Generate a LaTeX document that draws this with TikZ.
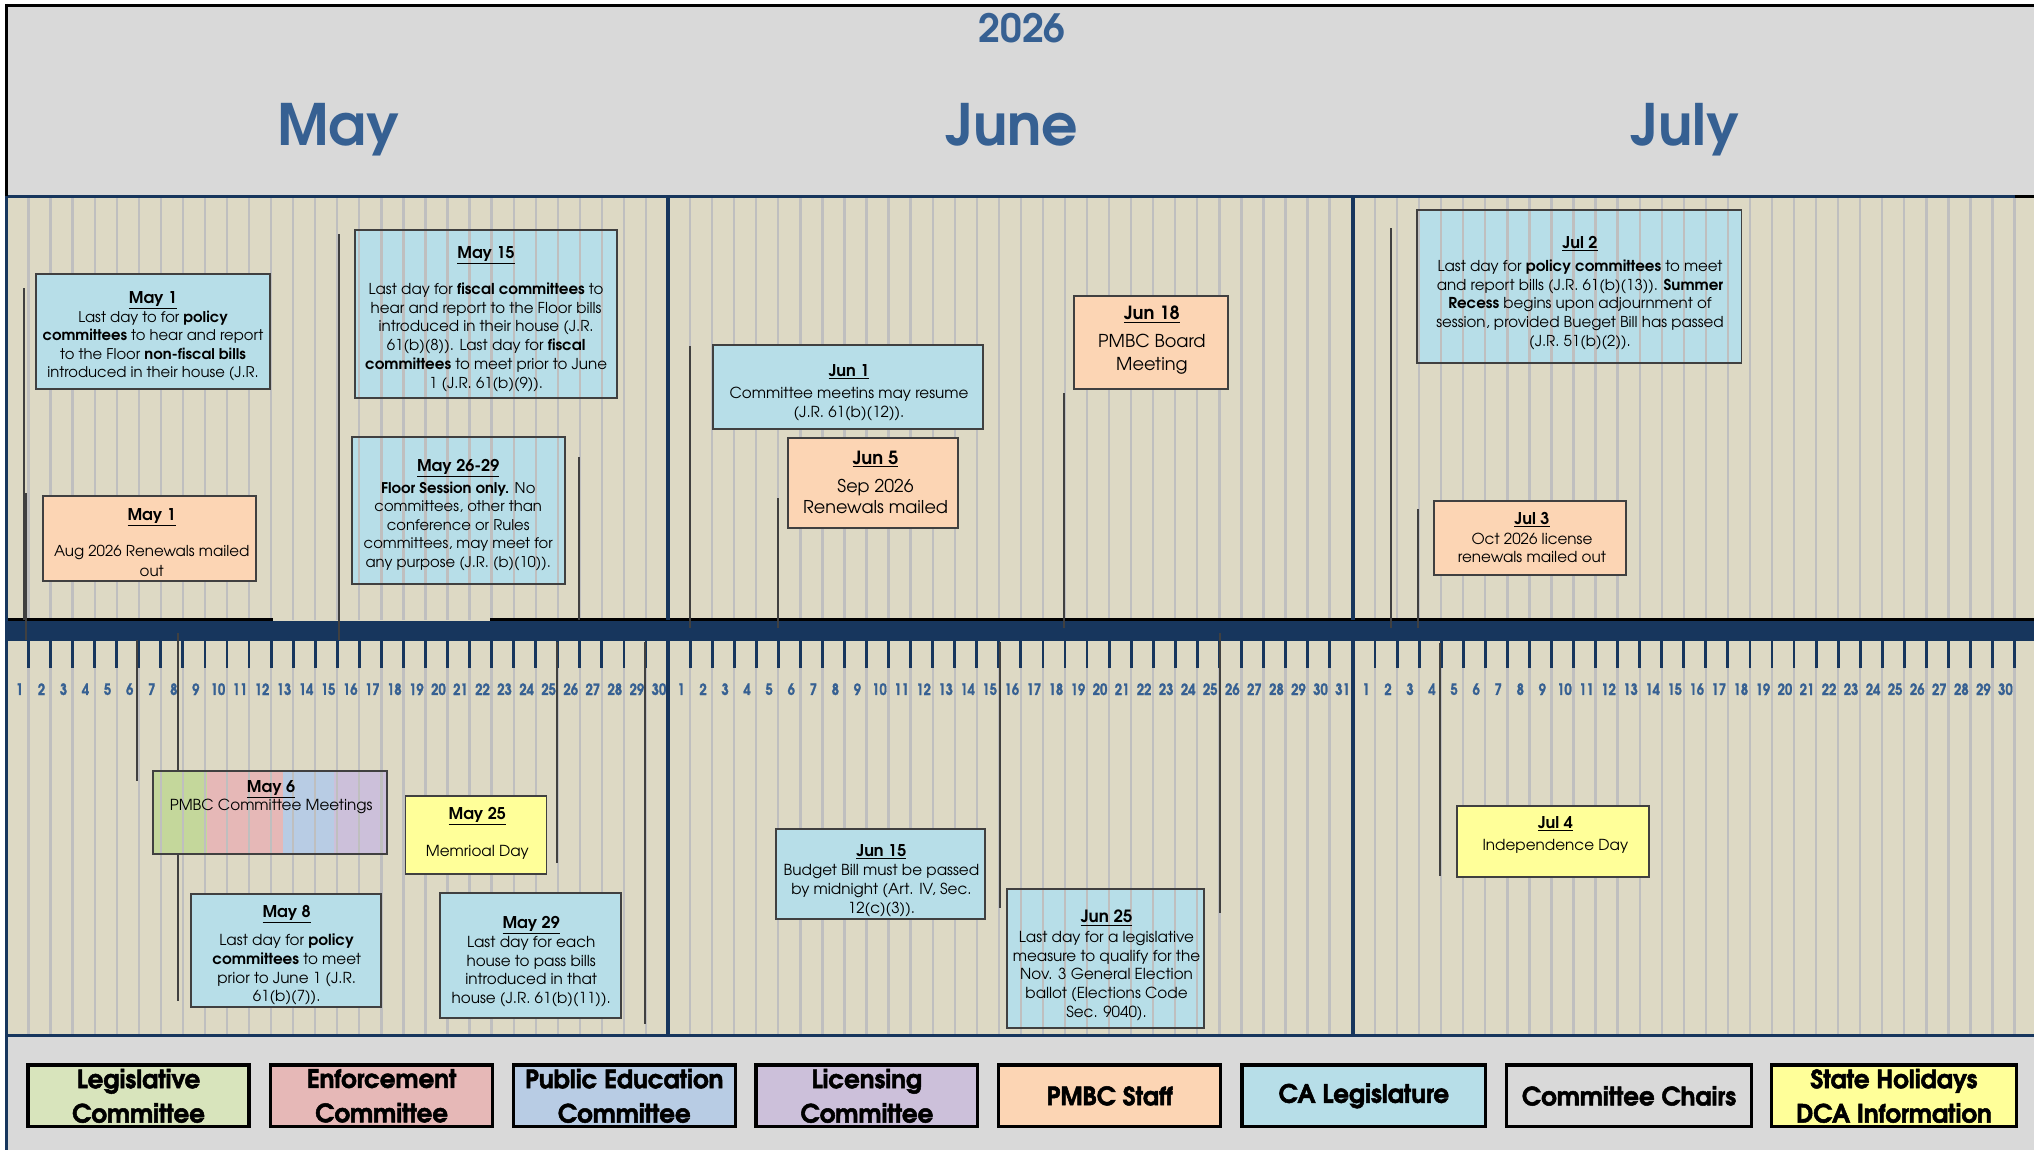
\documentclass[tikz,border=0pt]{standalone}
\usepackage{fontspec}
\setmainfont{texgyreadventor}[Extension=.otf,UprightFont=*-regular,BoldFont=*-bold,ItalicFont=*-italic,BoldItalicFont=*-bolditalic]
\newfontfamily\numfont{texgyreadventor}[Extension=.otf,UprightFont=*-bold,BoldFont=*-bold,FakeStretch=0.84,FakeBold=1.2]
\newfontfamily\legfont{texgyreadventor}[Extension=.otf,UprightFont=*-bold,BoldFont=*-bold,FakeStretch=0.97,FakeBold=2]
\definecolor{beige}{HTML}{DDD9C4}
\definecolor{stripecol}{HTML}{BFBFBF}
\definecolor{hdr}{HTML}{D9D9D9}
\definecolor{navy}{HTML}{17365D}
\definecolor{mblue}{HTML}{366092}
\definecolor{bord}{HTML}{404040}
\definecolor{cal}{HTML}{B7DEE8}
\definecolor{peach}{HTML}{FCD5B4}
\definecolor{hol}{HTML}{FFFF99}
\definecolor{legg}{HTML}{D8E4BC}
\definecolor{grn}{HTML}{C4D79B}
\definecolor{enf}{HTML}{E6B8B7}
\definecolor{pub}{HTML}{B8CCE4}
\definecolor{lic}{HTML}{CCC0DA}
\tikzset{
  evbox/.style={draw=bord,line width=1.5pt,inner sep=0pt},
  evtext/.style={align=center,inner sep=0pt,text=black},
  conn/.style={draw=bord,line width=1.5pt},
  stripeline/.style={draw=stripecol,line width=1.8pt},
  tickline/.style={draw=navy,line width=2.2pt},
  divline/.style={draw=navy,line width=2.5pt},
  legbox/.style={draw=black,line width=2.5pt,inner sep=0pt,minimum height=47.6pt,align=center,font=\legfont\fontsize{19.5}{26.5}\selectfont},
  daynum/.style={text=mblue,font=\numfont\fontsize{12}{12}\selectfont,inner sep=0pt},
  monthlbl/.style={text=mblue,font=\bfseries\fontsize{44}{44}\selectfont,inner sep=0pt,anchor=base},
}
\newcommand\evb[6]{\node[evbox,#6,minimum width={(#4)-(#2)},minimum height={(#5)-(#3)}] (#1) at ({((#2)+(#4))/2},{((#3)+(#5))/2}) {};}
\newcommand\ttl[2][12.5]{{\fontsize{#1}{14}\selectfont\underline{\textbf{#2}}}}
\newcommand\lead[4]{\coordinate (#1-b) at (#2,#3); \coordinate (#1-e) at (#2,#4); \draw[conn] (#1-b) -- (#1-e);}
\newcommand\bodyf[2]{\fontsize{#1}{#2}\selectfont}
\begin{document}
\begin{tikzpicture}[x=1pt,y=-1pt]
\useasboundingbox (0,0) rectangle (1568,886.5);
% backgrounds
\fill[white] (0,0) rectangle (1568,886.5);
\fill[hdr] (5,4) rectangle (1568,151);
\fill[beige] (5,151) rectangle (1568,798);
\fill[hdr] (5,798) rectangle (1568,886.5);
% fills of boxes that show the stripes through them
\fill[cal] (274,177) rectangle (475.5,307);
\fill[cal] (271,337) rectangle (435.5,450);
\fill[cal] (1092,162) rectangle (1342.5,280);
\fill[cal] (776.4,685.5) rectangle (927.8,792.8);
\fill[grn] (118,594) rectangle (159.6,658);
\fill[enf] (159.6,594) rectangle (218,658);
\fill[pub] (218,594) rectangle (257.5,658);
\fill[lic] (257.5,594) rectangle (298,658);
% stripes
\foreach \L/\n in {5/29,515/30,1043/30}{
  \foreach \d in {1,...,\n}{
    \draw[stripeline] ({\L+17*\d},152) -- ({\L+17*\d},478) ({\L+17*\d},493) -- ({\L+17*\d},797);
  }
}
% timeline bar
\fill[navy] (4.5,478.5) rectangle (1568,494);
\draw[black,line width=2.3pt] (5,477.3) -- (210.7,477.3) (378,477.3) -- (1568,477.3);
\foreach \L/\n in {5/29,515/30,1043/30}{
  \foreach \d in {1,...,\n}{
    \draw[tickline] ({\L+17*\d},494) -- ({\L+17*\d},515.3);
  }
}
\foreach \L/\n in {5/30,515/31,1043/30}{
  \foreach \d in {1,...,\n}{
    \node[daynum] (dn-\L-\d) at ({\L+17*\d-7},531.3) {\d};
  }
}
% month dividers and frame lines
\draw[divline] (515,151) -- (515,478) (515,494) -- (515,798);
\draw[divline] (1043,151) -- (1043,478) (1043,494) -- (1043,798);
\draw[navy,line width=2pt] (5,151.3) -- (1553,151.3);
\draw[black,line width=2pt] (1553,151.3) -- (1568,151.3);
\draw[navy,line width=2.5pt] (5,798) -- (1568,798);
\draw[black,line width=2pt] (5,3) -- (5,151);
\draw[navy,line width=2pt] (5,151) -- (5,886.5);
\draw[black,line width=2.5pt] (4,4) -- (1568,4);
% header
\node[text=mblue,font=\bfseries\fontsize{30}{30}\selectfont,inner sep=0pt] (year) at (788,21.5) {2026};
\node[monthlbl] (m-may) at (261,112) {May};
\node[monthlbl] (m-jun) at (780,112) {June};
\node[monthlbl] (m-jul) at (1299,112) {July};
% leader lines (top)
\lead{l1}{18.5}{478}{222}
\lead{l2}{20}{493}{380}
\lead{l3}{261}{493}{180.5}
\lead{l4}{446.4}{478}{352}
\lead{l5}{531.6}{484}{267}
\lead{l6}{599.6}{484}{384}
\lead{l7}{820.2}{484}{303}
\lead{l8}{1072.6}{484}{175.5}
\lead{l9}{1093}{484}{392.5}
% leader lines (bottom)
\lead{l10}{105.5}{493}{602}
\lead{l12}{429.3}{495}{665}
\lead{l13}{497.5}{495}{789}
\lead{l14}{770.7}{495}{700}
\lead{l15}{940.6}{488}{704}
\lead{l16}{1110.4}{496}{675}
% event boxes
\evb{may1a}{28}{211}{208}{300}{fill=cal}
\evb{may1b}{33.5}{382}{197}{448}{fill=peach}
\evb{may15}{274}{177}{475.5}{307}{}
\evb{may26}{271}{337}{435.5}{450}{}
\evb{jun1}{549.4}{266}{757.7}{330.7}{fill=cal}
\evb{jun5}{607.6}{337.5}{738.6}{407}{fill=peach}
\evb{jun18}{827.8}{228}{946.3}{299.7}{fill=peach}
\evb{jul2}{1092}{162}{1342.5}{280}{}
\evb{jul3}{1105.7}{386.3}{1253.7}{443.6}{fill=peach}
\evb{may6}{118}{594}{298}{658}{}
\evb{may8}{147}{689}{294}{776}{fill=cal}
\evb{may25}{312.6}{613.7}{421.3}{674}{fill=hol}
\evb{may29}{339.4}{688.3}{478.8}{785}{fill=cal}
\evb{jun15}{598}{639}{759}{708.8}{fill=cal}
\evb{jun25}{776.4}{685.5}{927.8}{792.8}{}
\evb{jul4}{1123.4}{621.4}{1271.5}{676.2}{fill=hol}
% May 8 leader passes behind the May 6 box
\coordinate (l11-b) at (137.2,488);
\coordinate (l11-e) at (137.2,772);
\draw[conn] (l11-b) -- (l11-b |- may6.north) (l11-b |- may6.south) -- (l11-e);
% event texts
\node[evtext,font=\bodyf{11.4}{14}] (t-may1a) at (118,259) {\ttl{May 1}\\[1pt]Last day to for \textbf{policy}\\\textbf{committees} to hear and report\\to the Floor \textbf{non-fiscal bills}\\introduced in their house (J.R.};
\node[evtext,font=\bodyf{11.6}{15}] (t-may1b) at (117,418.3) {\ttl{May 1}\\[13pt]Aug 2026 Renewals mailed\\out};
\node[evtext,font=\bodyf{11.6}{14.4}] (t-may15) at (374.75,245.8) {\ttl{May 15}\\[13.6pt]Last day for \textbf{fiscal committees} to\\hear and report to the Floor bills\\introduced in their house (J.R.\\61(b)(8)). Last day for \textbf{fiscal}\\\textbf{committees} to meet prior to June\\1 (J.R. 61(b)(9)).};
\node[evtext,font=\bodyf{11.4}{14.25}] (t-may26) at (353.25,396.8) {\ttl{May 26-29}\\[2.75pt]\textbf{Floor Session only.} No\\committees, other than\\conference or Rules\\committees, may meet for\\any purpose (J.R. (b)(10)).};
\node[evtext,font=\bodyf{11.7}{15}] (t-jun1) at (654.5,302.8) {\ttl{Jun 1}\\[2pt]Committee meetins may resume\\(J.R. 61(b)(12)).};
\node[evtext,font=\bodyf{13.6}{16}] (t-jun5) at (675,371.8) {\ttl[14]{Jun 5}\\[6pt]Sep 2026\\Renewals mailed};
\node[evtext,font=\bodyf{13.7}{18}] (t-jun18) at (888,262.3) {\ttl[14]{Jun 18}\\[3pt]PMBC Board\\Meeting};
\node[evtext,font=\bodyf{11.6}{14.5}] (t-jul2) at (1218,225.8) {\ttl{Jul 2}\\[3.5pt]Last day for \textbf{policy committees} to meet\\and report bills (J.R. 61(b)(13)). \textbf{Summer}\\\textbf{Recess} begins upon adjournment of\\session, provided Bueget Bill has passed\\(J.R. 51(b)(2)).};
\node[evtext,font=\bodyf{11.7}{14}] (t-jul3) at (1181,414.3) {\ttl{Jul 3}\\[1pt]Oct 2026 license\\renewals mailed out};
\node[evtext,font=\bodyf{11.7}{14}] (t-may6) at (209,614.8) {\ttl{May 6}\\PMBC Committee Meetings};
\node[evtext,font=\bodyf{11.7}{14.3}] (t-may8) at (221,736.3) {\ttl{May 8}\\[7.7pt]Last day for \textbf{policy}\\\textbf{committees} to meet\\prior to June 1 (J.R.\\61(b)(7)).};
\node[evtext,font=\bodyf{11.7}{14.3}] (t-may25) at (368,642.3) {\ttl{May 25}\\[14.7pt]Memrioal Day};
\node[evtext,font=\bodyf{11.7}{14.3}] (t-may29) at (409.5,741.3) {\ttl{May 29}\\Last day for each\\house to pass bills\\introduced in that\\house (J.R. 61(b)(11)).};
\node[evtext,font=\bodyf{11.7}{14.5}] (t-jun15) at (679.5,678.8) {\ttl{Jun 15}\\[0.5pt]Budget Bill must be passed\\by midnight (Art. IV, Sec.\\12(c)(3)).};
\node[evtext,font=\bodyf{11.7}{14.5}] (t-jun25) at (853,744.3) {\ttl[13]{Jun 25}\\[0.5pt]Last day for a legislative\\measure to qualify for the\\Nov. 3 General Election\\ballot (Elections Code\\Sec. 9040).};
\node[evtext,font=\bodyf{11.7}{14}] (t-jul4) at (1199,643.3) {\ttl{Jul 4}\\[3pt]Independence Day};
% legend
\node[legbox,fill=legg,minimum width=170.4] (leg1) at (106.8,844.8) {Legislative\\Committee};
\node[legbox,fill=enf,minimum width=171] (leg2) at (294.2,844.8) {Enforcement\\Committee};
\node[legbox,fill=pub,minimum width=171.1] (leg3) at (481.25,844.8) {Public Education\\Committee};
\node[legbox,fill=lic,minimum width=171] (leg4) at (668.3,844.8) {Licensing\\Committee};
\node[legbox,fill=peach,minimum width=171] (leg5) at (855.5,844.8) {PMBC Staff};
\node[legbox,fill=cal,minimum width=187.8] (leg6) at (1051.4,844.8) {CA Legislature};
\node[legbox,fill=hdr,minimum width=188.8] (leg7) at (1255.8,844.8) {Committee Chairs};
\node[legbox,fill=hol,minimum width=188.4] (leg8) at (1460,844.8) {State Holidays\\DCA Information};
\end{tikzpicture}
\end{document}
